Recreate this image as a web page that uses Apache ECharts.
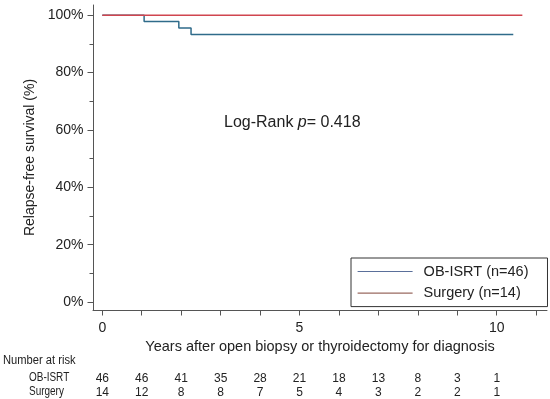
<!DOCTYPE html>
<html><head><meta charset="utf-8">
<script src="https://cdn.jsdelivr.net/npm/echarts@6/dist/echarts.min.js"></script>
<style>html,body{margin:0;padding:0;background:#fff}#c{width:550px;height:399px}</style>
</head><body><div id="c"></div>
<script>
// Kaplan-Meier step points [years, survival %]
var obIsrt = [[0,100],[1.06,97.8],[1.94,95.6],[2.25,93.3],[10.42,93.3]];
var surgery = [[0,100],[10.65,100]];
var riskYears = [0,1,2,3,4,5,6,7,8,9,10];
var riskOB = [46,46,41,35,28,21,18,13,8,3,1];
var riskSurg = [14,12,8,8,7,5,4,3,2,2,1];
var xTickVals = [0,1,2,3,4,5,6,7,8,9,10,11];
var xLabelVals = [0,5,10];
var yTicks = [0,20,40,60,80,100];
var yMinorTicks = [10,30,50,70,90];

var F = 'Arial, "Liberation Sans", sans-serif';
var axisCol = '#555';
var txt = '#222';
var X_MIN = -0.236, X_MAX = 11.275, Y_MIN = -2.79, Y_MAX = 103.59;
var chart = echarts.init(document.getElementById('c'));
function riskFmt(arr){ return function(v){ var i = riskYears.indexOf(Math.round(v)); return i>=0 ? String(arr[i]) : ''; }; }
function riskAxis(arr, off){
  return {type:'value', min:X_MIN, max:X_MAX, offset:off, position:'bottom',
    axisLine:{show:false}, axisTick:{show:false}, splitLine:{show:false},
    axisLabel:{margin:0, fontSize:12, color:txt, fontFamily:F, customValues:riskYears, formatter:riskFmt(arr)}};
}
chart.setOption({
  animation:false,
  textStyle:{fontFamily:F},
  grid:{left:93, right:3, top:5, bottom:89},
  xAxis:[
    {type:'value', min:X_MIN, max:X_MAX, position:'bottom',
     axisLine:{show:true, onZero:false, lineStyle:{color:axisCol, width:1}}, splitLine:{show:false},
     axisTick:{show:true, inside:false, length:5.5, customValues:xTickVals, lineStyle:{color:axisCol}},
     axisLabel:{margin:11, fontSize:14, color:txt, fontFamily:F, customValues:xLabelVals, formatter:function(v){return String(v);}},
     name:'Years after open biopsy or thyroidectomy for diagnosis', nameLocation:'middle', nameGap:27,
     nameTextStyle:{fontSize:14.5, color:txt, fontFamily:F}},
    riskAxis(riskOB, 63),
    riskAxis(riskSurg, 77)
  ],
  yAxis:[
    {type:'value', min:Y_MIN, max:Y_MAX, position:'left',
     axisLine:{show:true, onZero:false, lineStyle:{color:axisCol, width:1}}, splitLine:{show:false},
     axisTick:{show:true, inside:false, length:5.5, customValues:yTicks, lineStyle:{color:axisCol}},
     axisLabel:{margin:9.5, fontSize:14, color:txt, fontFamily:F, customValues:yTicks, formatter:function(v){return v+'%';}},
     name:'Relapse-free survival (%)', nameLocation:'middle', nameGap:52, nameRotate:90,
     nameTextStyle:{fontSize:14, color:txt, fontFamily:F}},
    {type:'value', min:Y_MIN, max:Y_MAX, position:'left', offset:0,
     axisLine:{show:false, onZero:false}, splitLine:{show:false}, axisLabel:{show:false},
     axisTick:{show:true, inside:false, length:3.5, customValues:yMinorTicks, lineStyle:{color:axisCol}}}
  ],
  legend:{
    orient:'vertical', left:351, top:258, padding:[6,19,6,6], itemGap:6.6,
    itemWidth:55, itemHeight:14, borderColor:'#333', borderWidth:1, borderRadius:0,
    backgroundColor:'#fff',
    textStyle:{fontSize:14.5, color:txt, fontFamily:F, padding:[0,0,0,6]},
    data:[
      {name:'OB-ISRT (n=46)', itemStyle:{opacity:0}, lineStyle:{color:'#5a6f9a', width:1.2}},
      {name:'Surgery (n=14)', itemStyle:{opacity:0}, lineStyle:{color:'#9a6a60', width:1.2}}
    ]
  },
  graphic:[
    {type:'text', left:3, top:355, scaleX:0.93, style:{text:'Number at risk', font:'12px '+F, fill:txt}},
    {type:'text', left:29, top:372, scaleX:0.83, style:{text:'OB-ISRT', font:'12px '+F, fill:txt}},
    {type:'text', left:29, top:386, scaleX:0.83, style:{text:'Surgery', font:'12px '+F, fill:txt}},
    {type:'text', left:224, top:115, style:{rich:{a:{fontSize:16,fontFamily:F,fill:txt},i:{fontSize:16,fontFamily:F,fontStyle:'italic',fill:txt}}, text:'{a|Log-Rank }{i|p}{a|= 0.418}'}}
  ],
  series:[
    {name:'OB-ISRT (n=46)', type:'line', step:'end', data:obIsrt,
     symbol:'none', lineStyle:{color:'#2f6b8a', width:1.5}, itemStyle:{color:'#2f6b8a'}},
    {name:'Surgery (n=14)', type:'line', step:'end', data:surgery,
     symbol:'none', lineStyle:{color:'#d0454f', width:1.5}, itemStyle:{color:'#d0454f'}}
  ]
});
</script></body></html>
